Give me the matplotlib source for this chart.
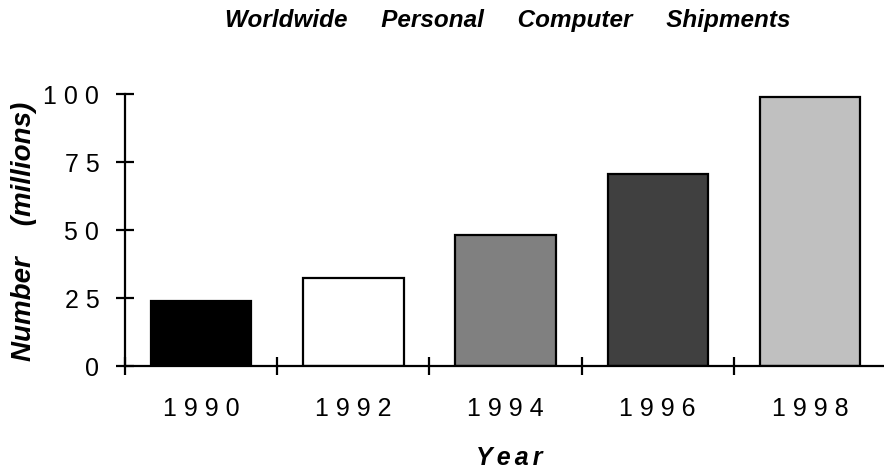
import matplotlib
matplotlib.use("Agg")
import matplotlib.pyplot as plt
from matplotlib.ticker import FixedLocator, NullFormatter

years = ["1990", "1992", "1994", "1996", "1998"]
shipments = [24, 32.5, 48, 70.5, 99]
bar_colors = ["#000000", "#ffffff", "#808080", "#404040", "#c0c0c0"]
y_ticks = [0, 25, 50, 75, 100]

plt.rcParams['font.family'] = ['Liberation Sans', 'DejaVu Sans']

fig = plt.figure(figsize=(8.84, 4.69), dpi=100)
ax = fig.add_axes([125/884, 1-366/469, 758/884, 272/469])

x = list(range(len(years)))
ax.bar(x, shipments, width=0.66, color=bar_colors, edgecolor="black", linewidth=1.6, zorder=2)

ax.set_xlim(-0.5, 4.48)
ax.set_ylim(0, 100)

for s in ["top", "right"]:
    ax.spines[s].set_visible(False)
for s in ["left", "bottom"]:
    ax.spines[s].set_linewidth(1.6)
    ax.spines[s].set_zorder(3)

spaced = lambda s: " ".join(s)
ax.set_yticks(y_ticks)
ax.set_yticklabels([spaced(str(v)) for v in y_ticks])
ax.set_xticks(x)
ax.set_xticklabels([spaced(y) for y in years])
ax.xaxis.set_minor_locator(FixedLocator([-0.5, 0.5, 1.5, 2.5, 3.5]))
ax.xaxis.set_minor_formatter(NullFormatter())
ax.tick_params(axis="x", which="major", length=0, pad=22, labelsize=18)
ax.tick_params(axis="x", which="minor", direction="inout", length=13, width=1.6)
ax.tick_params(axis="y", direction="inout", length=13, width=1.6, pad=12, labelsize=18)

fig.text(507.5/884, 1-27/469, "Worldwide     Personal     Computer     Shipments",
         ha="center", va="baseline", fontsize=17.5, fontweight="bold", fontstyle="italic")
fig.text(509/884, 1-465/469, "Y\u2006e\u2006a\u2006r", ha="center", va="baseline",
         fontsize=18, fontweight="bold", fontstyle="italic")
fig.text(24/884, 1-231/469, "Number    (millions)", ha="center", va="center", rotation=90,
         fontsize=20, fontweight="bold", fontstyle="italic")

fig.savefig("out.png", dpi=100)
